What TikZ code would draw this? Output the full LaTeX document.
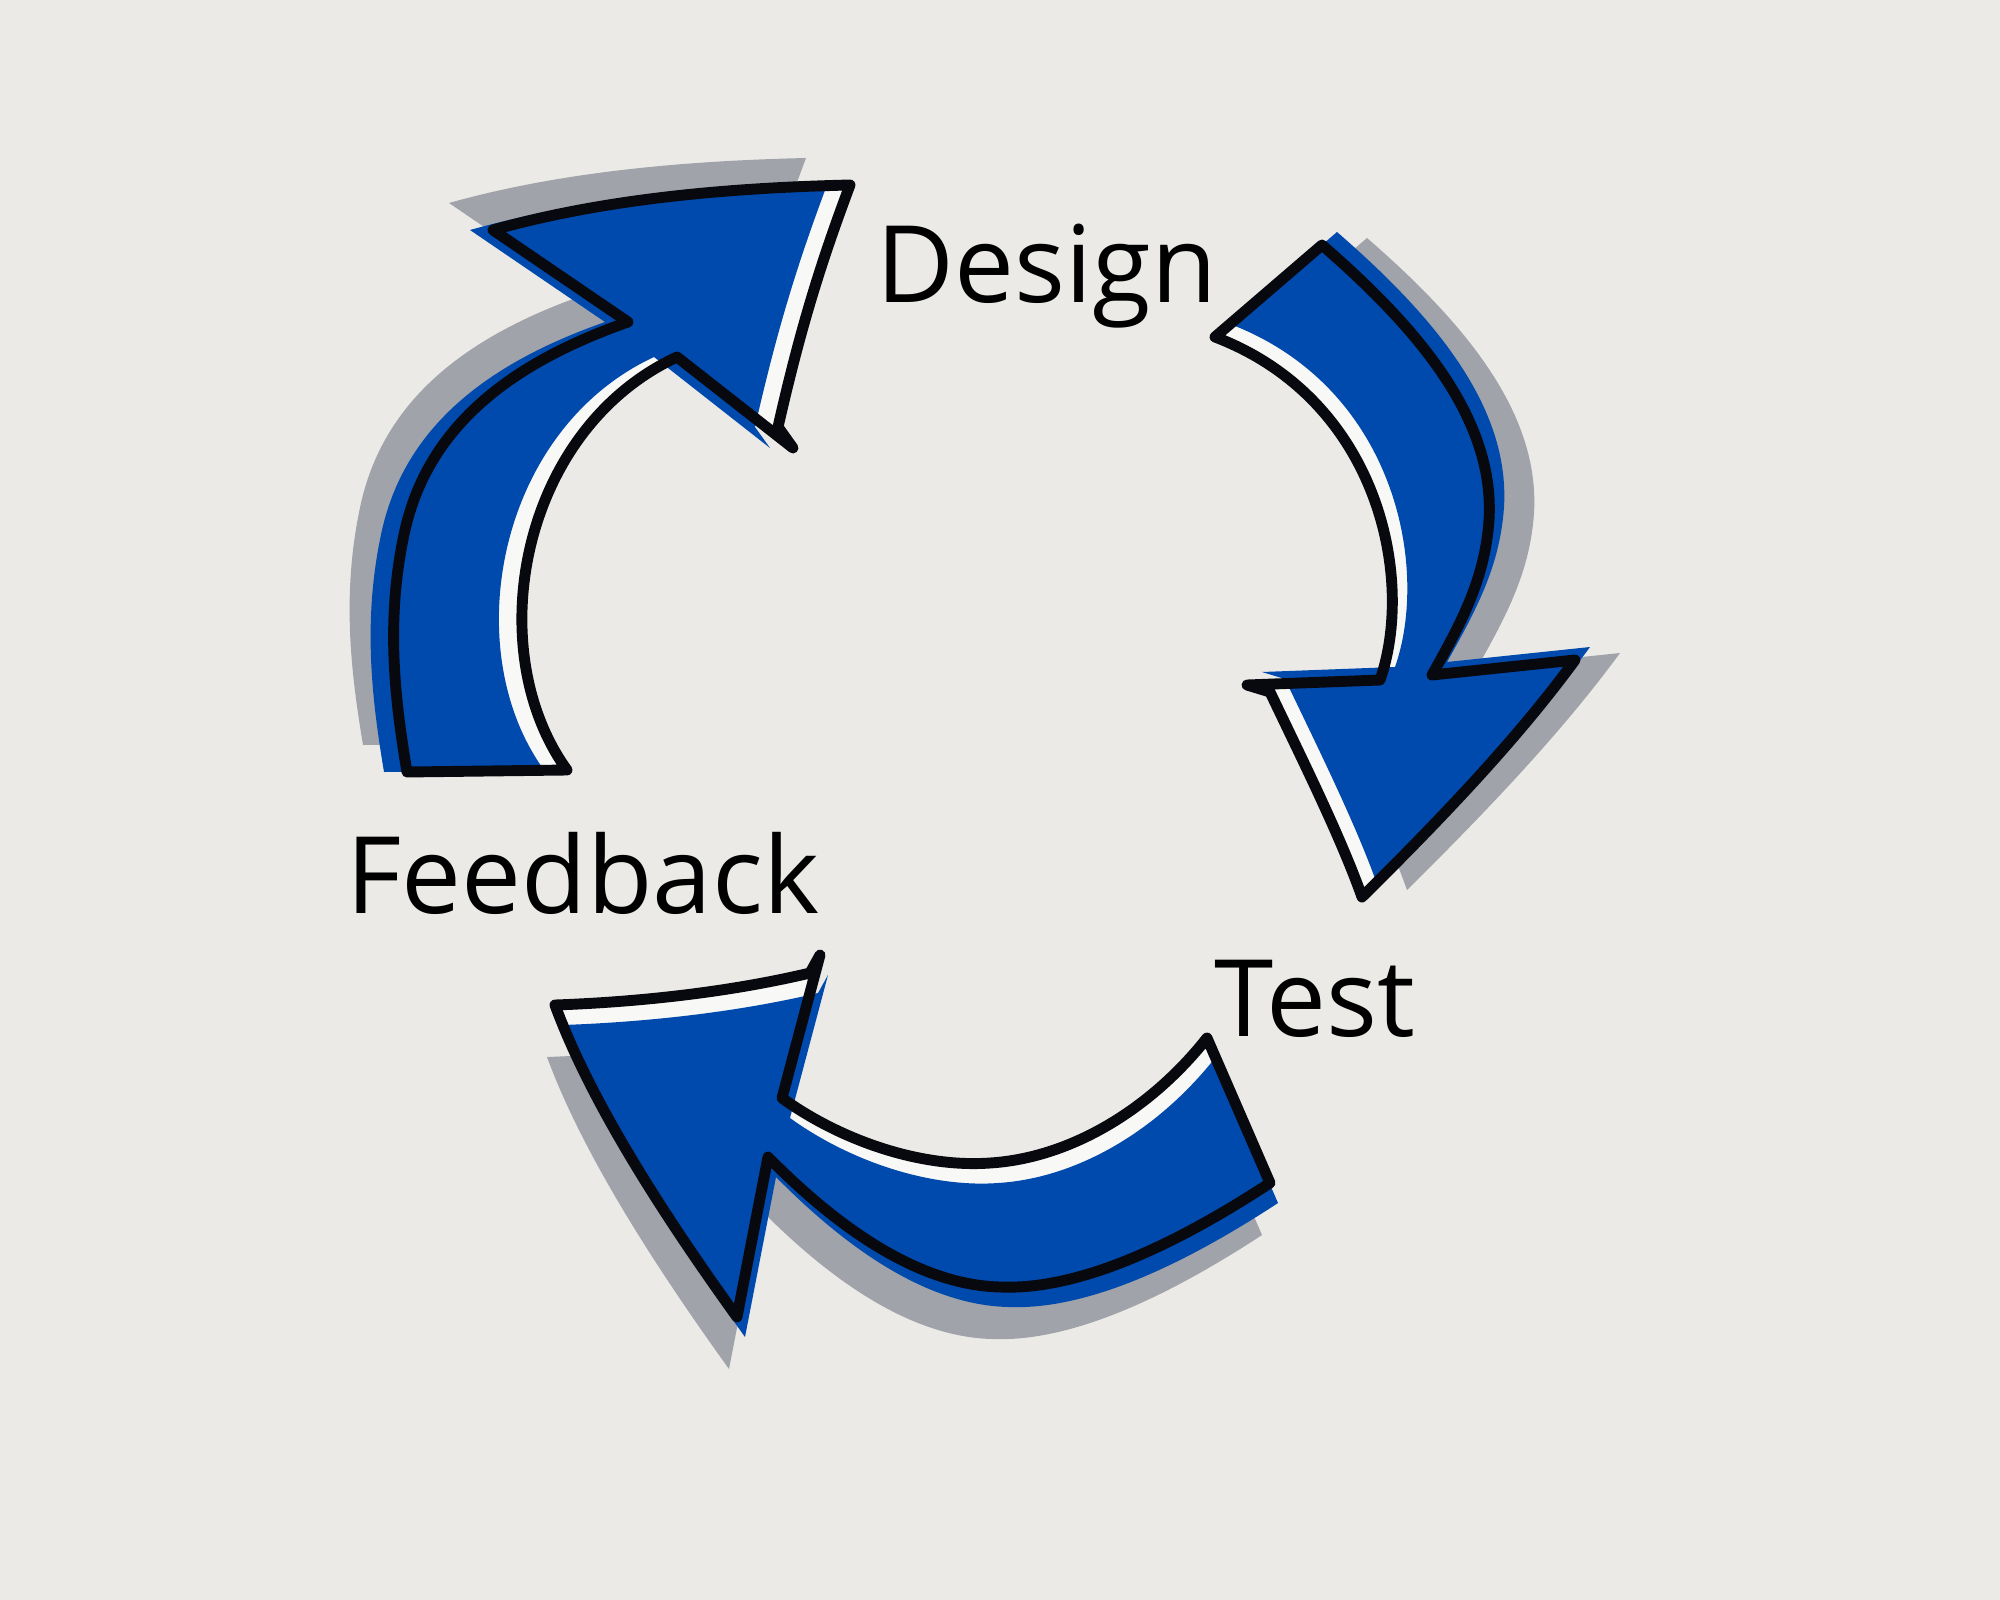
\documentclass[tikz,border=0pt]{standalone}
\usepackage{fontspec}
\setmainfont{Open Sans}
\usepackage{tikz}
\definecolor{loopPaper}{HTML}{EBEAE6}
\definecolor{loopBlue}{HTML}{004AAD}
\definecolor{loopGray}{HTML}{A0A3AA}
\definecolor{loopInk}{HTML}{08080F}
\definecolor{loopWhite}{HTML}{F8F8F6}
\tikzset{
  loop shadow/.style={fill=loopGray},
  loop under/.style={fill=loopWhite},
  loop fill/.style={fill=loopBlue},
  loop line/.style={draw=loopInk, line width=3.1pt, line join=round, line cap=round},
  loop label/.style={font=\fontsize{30.4}{36}\selectfont, text=black, inner sep=0pt, anchor=base west}
}
% outlines of the three hand drawn arrows (pixel units)
\newcommand{\arrowToDesign}{(407,772) -- (567,770)
  .. controls (480,650) and (520,430) .. (677,357)
  -- (793,448) -- (778,427)
  .. controls (800,330) and (820,265) .. (850,185)
  .. controls (720,188) and (600,200) .. (493,230)
  -- (628,322)
  .. controls (520,360) and (430,420) .. (405,530)
  .. controls (385,620) and (395,700) .. (407,772)
  -- cycle}
\newcommand{\arrowToTest}{(1215,337) -- (1322,245)
  .. controls (1420,330) and (1495,420) .. (1489,520)
  .. controls (1485,580) and (1460,625) .. (1432,675)
  -- (1575,660)
  .. controls (1520,735) and (1450,810) .. (1362,897)
  .. controls (1340,835) and (1300,755) .. (1270,692)
  -- (1247,685) -- (1380,680)
  .. controls (1415,580) and (1380,400) .. (1215,337)
  -- cycle}
\newcommand{\arrowToFeedback}{(1207,1038) -- (1270,1183)
  .. controls (1160,1255) and (1070,1290) .. (1000,1287)
  .. controls (920,1285) and (840,1230) .. (768,1157)
  -- (737,1317)
  .. controls (660,1210) and (590,1100) .. (555,1005)
  .. controls (640,1002) and (730,992) .. (810,973)
  -- (820,955) -- (782,1098)
  .. controls (840,1140) and (920,1168) .. (990,1163)
  .. controls (1070,1158) and (1150,1110) .. (1207,1038)
  -- cycle}

\begin{document}
\begin{tikzpicture}[x=0.01cm,y=-0.01cm]
  \fill[loopPaper] (0,0) rectangle (2000,1600);
  % feedback -> design
  \fill[loop shadow, shift={(-44,-27)}] \arrowToDesign;
  \fill[loop under] \arrowToDesign;
  \fill[loop fill, shift={(-23,0)}] \arrowToDesign;
  \draw[loop line] \arrowToDesign;
  % design -> test
  \fill[loop shadow, shift={(45,-7)}] \arrowToTest;
  \fill[loop under] \arrowToTest;
  \fill[loop fill, shift={(15,-13)}] \arrowToTest;
  \draw[loop line] \arrowToTest;
  % test -> feedback
  \fill[loop shadow, shift={(-8,52)}] \arrowToFeedback;
  \fill[loop under] \arrowToFeedback;
  \fill[loop fill, shift={(8,20)}] \arrowToFeedback;
  \draw[loop line] \arrowToFeedback;
  \node[loop label] (design) at (876,302) {Design};
  \node[loop label] (test) at (1214,1036) {Test};
  \node[loop label] (feedback) at (346,913) {Feedback};
\end{tikzpicture}
\end{document}
